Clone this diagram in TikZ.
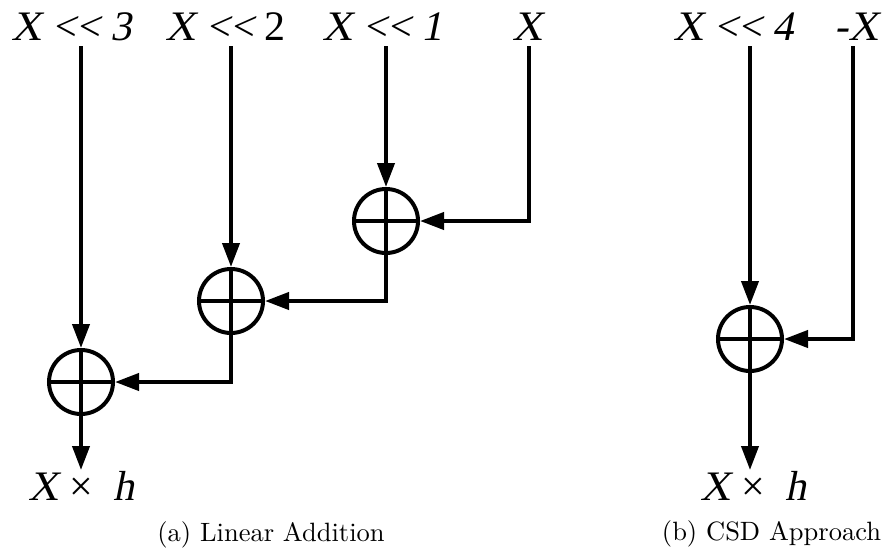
\documentclass[tikz,border=0pt]{standalone}
\usepackage{fontspec}
\usetikzlibrary{arrows.meta}
\newfontfamily\tnr{Liberation Serif}
\newfontfamily\tnri{Liberation Serif}[FakeSlant=0.2]
\newfontfamily\lmten{lmroman10-regular}[Extension=.otf]
\begin{document}
\begin{tikzpicture}[x=1pt,y=-1pt,
  wire/.style={line width=4pt},
  arr/.style={wire,-{Triangle[length=24pt,width=17pt]}},
  adder/.style={circle,draw,line width=4pt,minimum size=64pt,inner sep=0pt,
    path picture={\draw[line width=3.5pt]
      (path picture bounding box.north) -- (path picture bounding box.south)
      (path picture bounding box.west) -- (path picture bounding box.east);}},
  sig/.style={font=\fontsize{42}{48}\tnri,inner sep=0pt,anchor=base west},
  captext/.style={font=\fontsize{26.5}{30}\lmten,inner sep=0pt,anchor=base}]
\useasboundingbox (0,0) rectangle (884,552);

% (a) linear chain of adders
\node[adder] (a1) at (386,221) {};
\node[adder] (a2) at (231,301) {};
\node[adder] (a3) at (81,382) {};

\node[sig] (l3) at (11,40) {X <\kern1pt< 3};
\node[sig] (l2) at (165,40) {X <\kern1pt< {\tnr 2}};
\node[sig] (l1) at (322,40) {X <\kern1pt< 1};
\node[sig] (l0) at (512,40) {X};

\coordinate (s3) at (81,46);
\coordinate (s2) at (231,46);
\coordinate (s1) at (386,46);
\coordinate (s0) at (529,46);
\coordinate (oa) at (81,470);

\draw[arr] (s3) -- (a3.north);
\draw[arr] (s2) -- (a2.north);
\draw[arr] (s1) -- (a1.north);
\draw[arr] (s0) |- (a1.east);
\draw[arr] (a1.south) |- (a2.east);
\draw[arr] (a2.south) |- (a3.east);
\draw[arr] (a3.south) -- (oa);

\node[sig] (ya) at (28,500) {X {\tnr ×}\ \ h};
\node[captext] (ca) at (271,541) {(a) Linear Addition};

% (b) CSD form
\node[adder] (b1) at (750,339) {};
\node[sig] (l4) at (673,40) {X <\kern1pt< 4};
\node[sig] (lm) at (834,40) {-X};

\coordinate (s4) at (750,46);
\coordinate (sm) at (853,46);
\coordinate (ob) at (750,470);

\draw[arr] (s4) -- (b1.north);
\draw[arr] (sm) |- (b1.east);
\draw[arr] (b1.south) -- (ob);

\node[sig] (yb) at (700,500) {X {\tnr ×}\ \ h};
\node[captext] (cb) at (771.5,540) {(b) CSD Approach};
\end{tikzpicture}
\end{document}
